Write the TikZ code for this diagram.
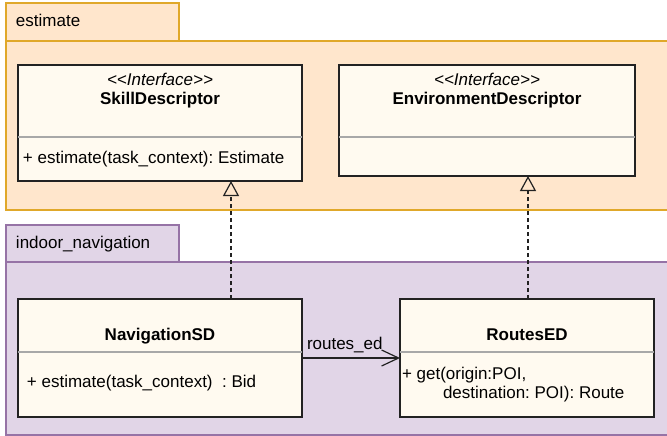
\documentclass[tikz,border=0pt]{standalone}
\usepackage{fontspec}
\setmainfont{Liberation Sans}
\usetikzlibrary{arrows.meta}

\definecolor{pkgOrangeFill}{HTML}{FFE6CC}
\definecolor{pkgOrangeLine}{HTML}{E0A82A}
\definecolor{pkgPurpleFill}{HTML}{E1D5E7}
\definecolor{pkgPurpleLine}{HTML}{9673A6}
\definecolor{classFill}{HTML}{FFFAF0}
\definecolor{classLine}{HTML}{222222}
\definecolor{divLine}{HTML}{A8A8A8}

\begin{document}
\frenchspacing
\begin{tikzpicture}[x=1pt,y=-1pt,
  every node/.style={inner sep=0pt, outer sep=0pt, font=\fontsize{17}{20}\selectfont},
  orangepkg/.style={draw=pkgOrangeLine, fill=pkgOrangeFill, line width=1.4pt},
  purplepkg/.style={draw=pkgPurpleLine, fill=pkgPurpleFill, line width=1.4pt},
  classbox/.style={draw=classLine, fill=classFill, line width=1.3pt, anchor=north west},
  divider/.style={draw=divLine, line width=1.2pt},
  txtl/.style={anchor=base west},
  stereo/.style={anchor=base, font=\fontsize{17}{20}\selectfont\itshape},
  cname/.style={anchor=base, font=\fontsize{17}{20}\selectfont\bfseries},
  realize/.style={draw=classLine, line width=1.2pt, dash pattern=on 4pt off 3pt,
    -{Triangle[open, length=15pt, width=16pt, line width=1.2pt]}},
  assoc/.style={draw=classLine, line width=1.2pt,
    -{Straight Barb[length=17pt, width=16pt, line width=1.2pt]}},
]
\useasboundingbox (0,0) rectangle (667,436);
\clip (0,0) rectangle (667,436);

% package "estimate"
\draw[orangepkg] (6,3) rectangle (179,41);
\draw[orangepkg] (6,41) rectangle (672,210);
\node[txtl] (estlabel) at (16,27) {estimate};

% package "indoor_navigation"
\draw[purplepkg] (6,225) rectangle (179,262);
\draw[purplepkg] (6,262) rectangle (672,435);
\node[txtl] (navlabel) at (16,248) {indoor\_navigation};

% interface SkillDescriptor
\node[classbox, minimum width=284pt, minimum height=116pt] (skill) at (18,65) {};
\draw[divider] (skill.west |- 0,137) -- (skill.east |- 0,137);
\node[stereo] (skillst) at (160,85) {<{}<Interface>{}>};
\node[cname] (skillname) at (160,105) {SkillDescriptor};
\node[txtl] (skillop) at (23,163) {+ estimate(task\_context): Estimate};

% interface EnvironmentDescriptor
\node[classbox, minimum width=296pt, minimum height=111pt] (env) at (339,65) {};
\draw[divider] (env.west |- 0,137) -- (env.east |- 0,137);
\node[stereo] (envst) at (487,85) {<{}<Interface>{}>};
\node[cname] (envname) at (487,105) {EnvironmentDescriptor};

% class NavigationSD
\node[classbox, minimum width=284pt, minimum height=118pt] (nav) at (18,299) {};
\draw[divider] (nav.west |- 0,352) -- (nav.east |- 0,352);
\node[cname] (navname) at (160,340) {NavigationSD};
\node[txtl] (navop) at (27,387) {+ estimate(task\_context)\ \ : Bid};

% class RoutesED
\node[classbox, minimum width=254pt, minimum height=118pt] (routes) at (400,299) {};
\draw[divider] (routes.west |- 0,352) -- (routes.east |- 0,352);
\node[cname] (routesname) at (527,340) {RoutesED};
\node[txtl] (routesop1) at (402,379) {+ get(origin:POI,};
\node[txtl] (routesop2) at (443,398) {destination: POI): Route};

% realizations
\draw[realize] (nav.north -| 231,0) -- (skill.south -| 231,0);
\draw[realize] (routes.north -| 528,0) -- (env.south -| 528,0);

% association
\draw[assoc] (nav.east |- 0,358) -- (routes.west |- 0,358);
\node[txtl] (assoclabel) at (307,349) {routes\_ed};
\end{tikzpicture}
\end{document}
